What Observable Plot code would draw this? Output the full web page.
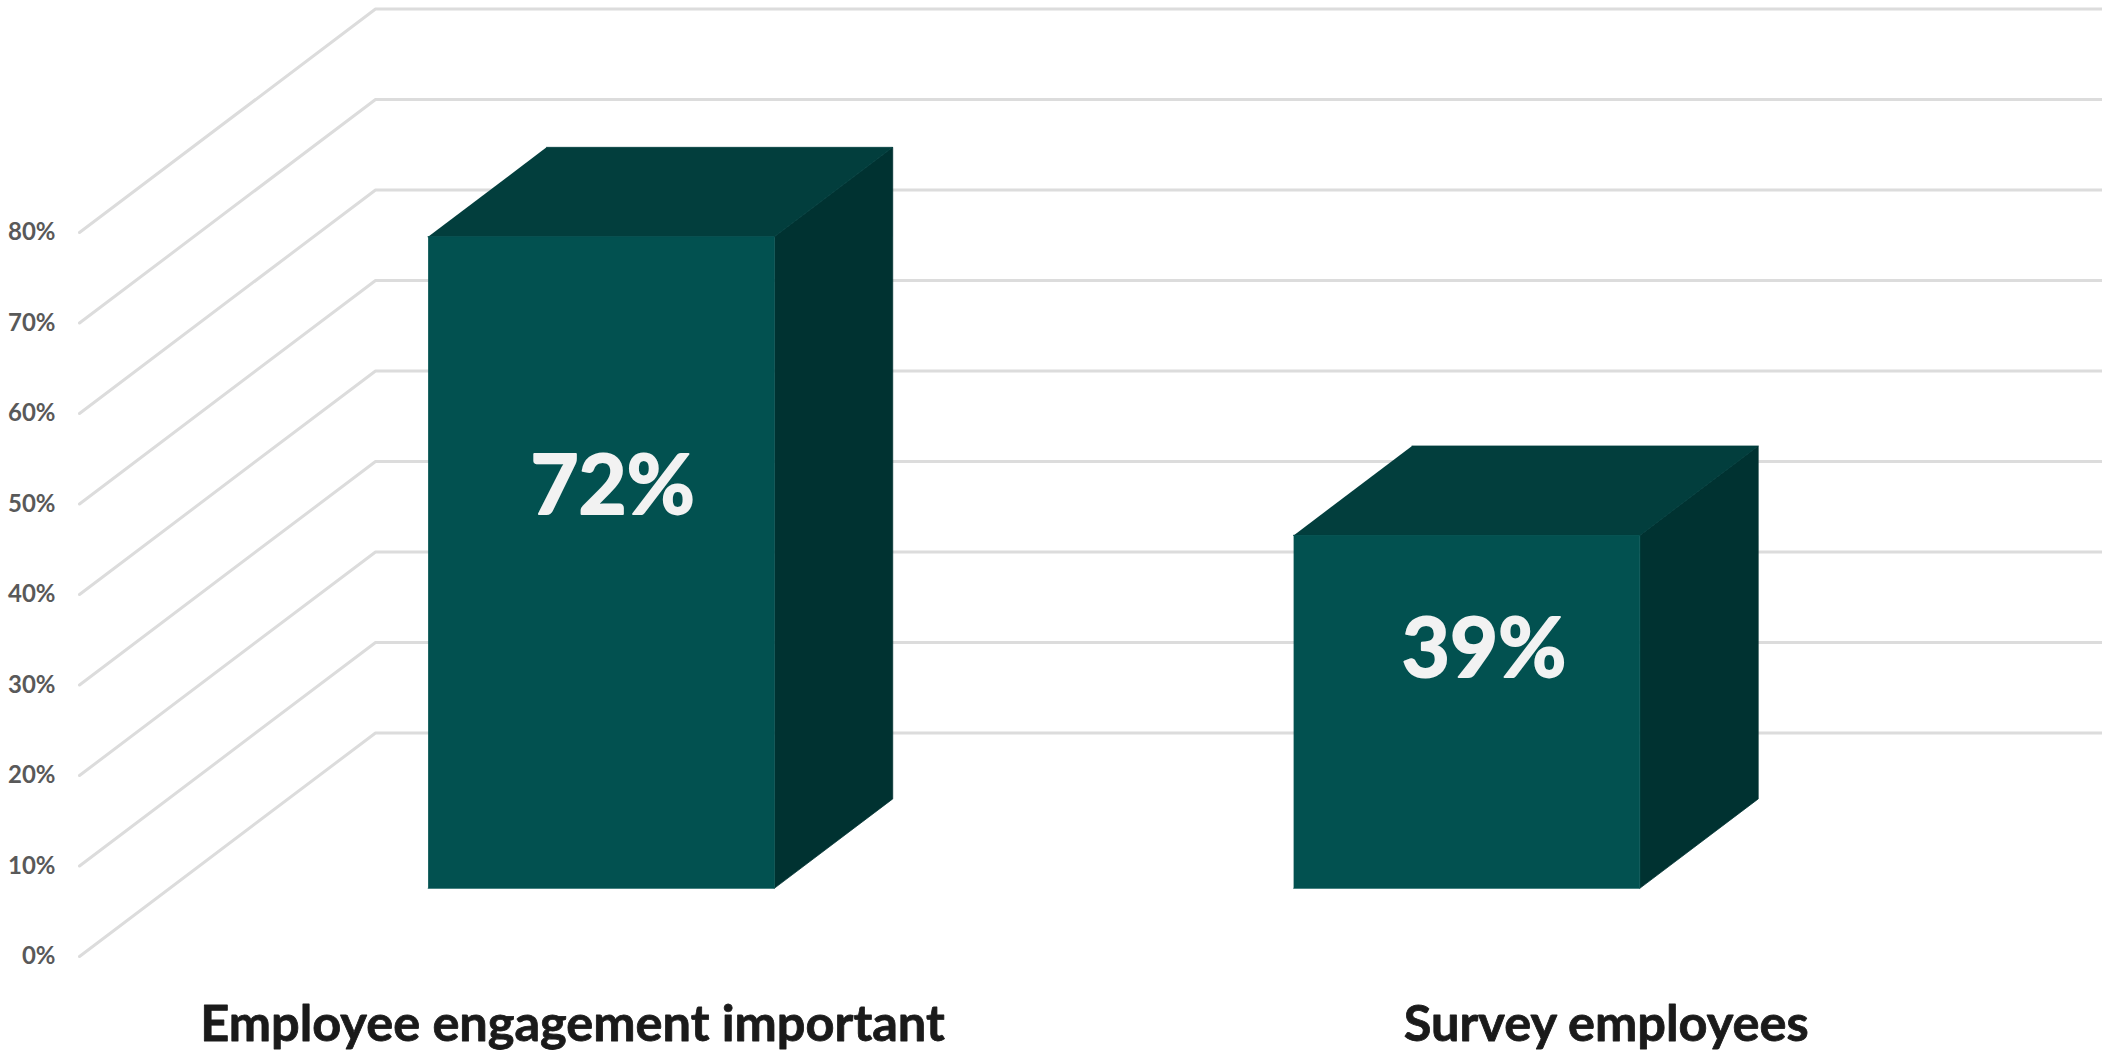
<!DOCTYPE html>
<html>
<head>
<meta charset="utf-8">
<script src="https://cdn.jsdelivr.net/npm/d3@7"></script>
<script src="https://cdn.jsdelivr.net/npm/@observablehq/plot@0.6"></script>
<style>
  html, body { margin: 0; padding: 0; background: #fff; overflow: hidden; }
  svg { display: block; }
</style>
</head>
<body>
<script>
// Survey results, in percent
const categories = ["Employee engagement important", "Survey employees"];
const values = [72, 39];
const levels = [0, 10, 20, 30, 40, 50, 60, 70, 80];

// Oblique projection of the 3D chart box. A point is (category units, percent, depth 0..1).
const depthX = 0.342;   // horizontal shift of the full floor depth, in category units
const depthY = 24.7;    // vertical shift of the full floor depth, in percent units
const barStart = 0.2985, barEnd = 0.6985;    // bar extent inside its category slot
const barFront = 0.305, barBack = 0.705;     // bar extent along the floor depth
const project = (u, v, d) => ({x: u + d * depthX, y: v + d * depthY});

// Where the label of each bar and each category sits
const valueLabelLevel = [44.3, 26.3];
const valueLabelCenter = [0.5116, 0.5185];
const categoryLabelCenter = [0.5696, 1.764];
const categoryLabelLevel = -7.55;

// Wall gridlines: up the side wall from the front edge, then along the back wall
const gridPoints = levels.flatMap((level) => [
  {level, ...project(0, level, 0)},
  {level, ...project(0, level, 1)},
  {level, ...project(categories.length, level, 1)}
]);

// Polygon corners of one bar face, for every bar
const face = (corners) => values.flatMap((value, i) =>
  corners(i, value).map((p) => ({bar: i, ...p}))
);
const frontFace = face((i, v) => [
  project(i + barStart, 0, barFront),
  project(i + barEnd, 0, barFront),
  project(i + barEnd, v, barFront),
  project(i + barStart, v, barFront)
]);
const topFace = face((i, v) => [
  project(i + barStart, v, barFront),
  project(i + barEnd, v, barFront),
  project(i + barEnd, v, barBack),
  project(i + barStart, v, barBack)
]);
const sideFace = face((i, v) => [
  project(i + barEnd, 0, barFront),
  project(i + barEnd, 0, barBack),
  project(i + barEnd, v, barBack),
  project(i + barEnd, v, barFront)
]);

const faceMark = (points, color) => Plot.line(points, {
  x: "x", y: "y", z: "bar", fill: color, stroke: color, strokeWidth: 0.75
});

const FONT = "Lato, Carlito, Calibri, sans-serif";

const chart = Plot.plot({
  width: 2102,
  height: 1052,
  marginLeft: 79,
  marginRight: 0,
  marginTop: 0,
  marginBottom: 96,
  x: {domain: [0, 2.3374], axis: null},
  y: {domain: [0, 105.64], axis: null},
  style: {background: "#fff", fontFamily: FONT},
  marks: [
    Plot.line(gridPoints, {x: "x", y: "y", z: "level", stroke: "#dcdcdc", strokeWidth: 3}),
    faceMark(sideFace, "#003231"),
    faceMark(topFace, "#023e3d"),
    faceMark(frontFace, "#025150"),
    Plot.axisY({
      ticks: levels,
      tickSize: 0,
      tickPadding: 24,
      tickFormat: (d) => d + "%",
      fontSize: 24,
      fontWeight: 700,
      fill: "#595959",
      stroke: "#595959",
      strokeWidth: 0.5,
      label: null
    }),
    Plot.text(values, {
      x: (d, i) => i + valueLabelCenter[i] + barFront * depthX,
      y: (d, i) => valueLabelLevel[i] + barFront * depthY,
      text: (d) => d + "%",
      fontSize: 83,
      fontWeight: 700,
      fill: "#f2f2f2",
      stroke: "#f2f2f2",
      strokeWidth: 2
    }),
    Plot.text(categories, {
      x: (d, i) => categoryLabelCenter[i],
      y: () => categoryLabelLevel,
      text: (d) => d,
      fontSize: 50.5,
      fontWeight: 700,
      fill: "#1a1a1a",
      stroke: "#1a1a1a",
      strokeWidth: 0.8
    })
  ]
});

document.body.appendChild(chart);
</script>
</body>
</html>
